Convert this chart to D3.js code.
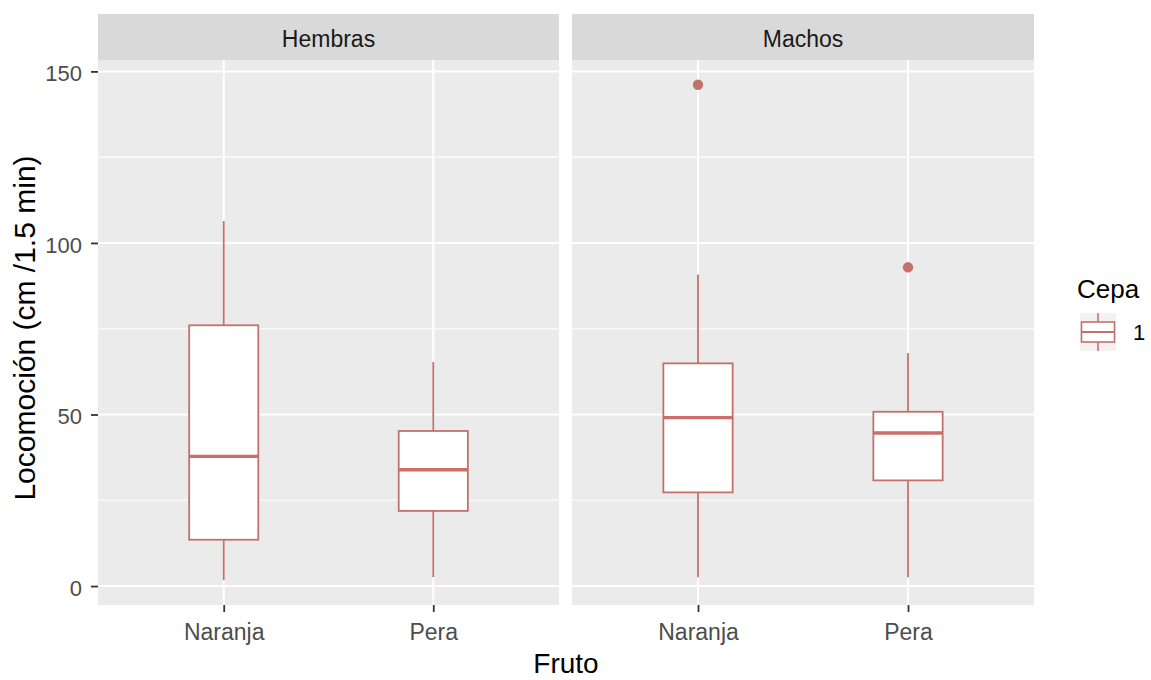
<!DOCTYPE html>
<html>
<head>
<meta charset="utf-8">
<script src="https://cdn.jsdelivr.net/npm/d3@7"></script>
<style>
  html, body { margin: 0; padding: 0; background: #ffffff; }
  svg { display: block; font-family: "Liberation Sans", Arial, sans-serif; }
</style>
</head>
<body>
<svg id="chart" width="1151" height="680"></svg>
<script>
// Facets, categories and tick labels
const facets = ["Hembras", "Machos"];
const frutos = ["Naranja", "Pera"];
const yTicks = [0, 50, 100, 150];
const yMinor = [25, 75, 125];
const legendLevels = ["1"];

// Box summaries per facet: [whisker low, Q1, median, Q3, whisker high]
const hembrasStats = [
  [1.7, 13.5, 37.8, 76.0, 106.4],   // Naranja
  [2.6, 21.9, 33.9, 45.2, 65.3]     // Pera
];
const machosStats = [
  [2.6, 27.3, 49.1, 64.9, 90.8],    // Naranja
  [2.6, 30.8, 44.6, 50.8, 67.9]     // Pera
];
// Outliers per facet and category
const hembrasOutliers = [[], []];
const machosOutliers = [[146.1], [92.9]];

const statsByFacet = [hembrasStats, machosStats];
const outliersByFacet = [hembrasOutliers, machosOutliers];

const svg = d3.select("#chart");
const strokeCol = "#C2726D";
const medianCol = "#CD6E68";
const FONT = "Liberation Sans, Arial, sans-serif";

const panelTop = 60, panelBottom = 605;
const panelsX = [[98, 559], [572, 1034]];
const stripTop = 14;

// Shared y scale; domain includes a 5% expansion of the data range
const dataMin = 1.7, dataMax = 146.1;
const pad = (dataMax - dataMin) * 0.05;
const y = d3.scaleLinear().domain([dataMin - pad, dataMax + pad]).range([panelBottom, panelTop]);

facets.forEach((facet, fi) => {
  const [x0, x1] = panelsX[fi];
  const x = d3.scalePoint().domain(frutos).range([x0, x1]).padding(0.6);
  const step = x.step();
  const boxW = step * 0.33;
  const g = svg.append("g");

  // strip
  g.append("rect").attr("x", x0).attr("y", stripTop).attr("width", x1 - x0)
    .attr("height", panelTop - stripTop).attr("fill", "#D9D9D9");
  g.append("text").attr("x", (x0 + x1) / 2).attr("y", 47)
    .attr("text-anchor", "middle")
    .attr("font-size", 23).attr("fill", "#1A1A1A").text(facet);

  // panel background
  g.append("rect").attr("x", x0).attr("y", panelTop).attr("width", x1 - x0)
    .attr("height", panelBottom - panelTop).attr("fill", "#EBEBEB");

  // grid
  g.selectAll(".minor").data(yMinor).join("line")
    .attr("x1", x0).attr("x2", x1).attr("y1", d => y(d)).attr("y2", d => y(d))
    .attr("stroke", "#ffffff").attr("stroke-width", 1.1);
  g.selectAll(".major").data(yTicks).join("line")
    .attr("x1", x0).attr("x2", x1).attr("y1", d => y(d)).attr("y2", d => y(d))
    .attr("stroke", "#ffffff").attr("stroke-width", 2);
  g.selectAll(".vmajor").data(frutos).join("line")
    .attr("x1", d => x(d)).attr("x2", d => x(d)).attr("y1", panelTop).attr("y2", panelBottom)
    .attr("stroke", "#ffffff").attr("stroke-width", 2);

  // boxplots
  const stats = statsByFacet[fi];
  frutos.forEach((fr, ci) => {
    const [lo, q1, med, q3, hi] = stats[ci];
    const cx = x(fr);
    g.append("line").attr("x1", cx).attr("x2", cx).attr("y1", y(q3)).attr("y2", y(hi))
      .attr("stroke", strokeCol).attr("stroke-width", 1.8);
    g.append("line").attr("x1", cx).attr("x2", cx).attr("y1", y(q1)).attr("y2", y(lo))
      .attr("stroke", strokeCol).attr("stroke-width", 1.8);
    g.append("rect").attr("x", cx - boxW / 2).attr("y", y(q3)).attr("width", boxW)
      .attr("height", y(q1) - y(q3)).attr("fill", "#ffffff")
      .attr("stroke", strokeCol).attr("stroke-width", 1.8);
    g.append("line").attr("x1", cx - boxW / 2).attr("x2", cx + boxW / 2)
      .attr("y1", y(med)).attr("y2", y(med))
      .attr("stroke", medianCol).attr("stroke-width", 3.4);
    outliersByFacet[fi][ci].forEach(v => {
      g.append("circle").attr("cx", cx).attr("cy", y(v)).attr("r", 5.2)
        .attr("fill", strokeCol);
    });
  });

  // x axis
  const xAxis = d3.axisBottom(x).tickSize(7).tickPadding(12);
  const ax = g.append("g").attr("transform", `translate(0,${panelBottom})`).call(xAxis);
  ax.select(".domain").remove();
  ax.selectAll(".tick line").attr("stroke", "#333333").attr("stroke-width", 1.8);
  ax.selectAll(".tick text").attr("font-size", 23).attr("fill", "#4D4D4D")
    .attr("font-family", FONT);
});

// y axis
const yAxis = d3.axisLeft(y).tickValues(yTicks).tickSize(7).tickPadding(9);
const ay = svg.append("g").attr("transform", `translate(${panelsX[0][0]},0)`).call(yAxis);
ay.select(".domain").remove();
ay.selectAll(".tick line").attr("stroke", "#333333").attr("stroke-width", 1.8);
ay.selectAll(".tick text").attr("font-size", 22).attr("fill", "#4D4D4D")
  .attr("dy", "0.42em").attr("font-family", FONT);

// axis titles
svg.append("text").attr("x", (panelsX[0][0] + panelsX[1][1]) / 2).attr("y", 673)
  .attr("text-anchor", "middle").attr("font-size", 28).attr("fill", "#000000").text("Fruto");
svg.append("text")
  .attr("transform", `translate(35,328) rotate(-90)`)
  .attr("text-anchor", "middle").attr("font-size", 30).attr("fill", "#000000")
  .text("Locomoción (cm /1.5 min)");

// legend
const lg = svg.append("g");
lg.append("text").attr("x", 1077).attr("y", 298).attr("font-size", 26).attr("fill", "#000000").text("Cepa");
legendLevels.forEach((lvl, i) => {
  const ky = 313 + i * 38;
  const kx = 1080, kw = 36, kh = 38;
  lg.append("rect").attr("x", kx).attr("y", ky).attr("width", kw).attr("height", kh).attr("fill", "#F4F1F1");
  const cx = kx + kw / 2;
  lg.append("line").attr("x1", cx).attr("x2", cx).attr("y1", ky).attr("y2", ky + kh)
    .attr("stroke", strokeCol).attr("stroke-width", 1.6);
  lg.append("rect").attr("x", kx + 1.5).attr("y", ky + 9).attr("width", kw - 3).attr("height", kh - 18)
    .attr("fill", "#ffffff").attr("stroke", strokeCol).attr("stroke-width", 1.6);
  lg.append("line").attr("x1", kx + 1.5).attr("x2", kx + kw - 1.5).attr("y1", ky + kh / 2).attr("y2", ky + kh / 2)
    .attr("stroke", strokeCol).attr("stroke-width", 1.8);
  lg.append("text").attr("x", kx + kw + 17).attr("y", ky + kh / 2).attr("dy", "0.36em")
    .attr("font-size", 22).attr("fill", "#000000").text(lvl);
});
</script>
</body>
</html>
